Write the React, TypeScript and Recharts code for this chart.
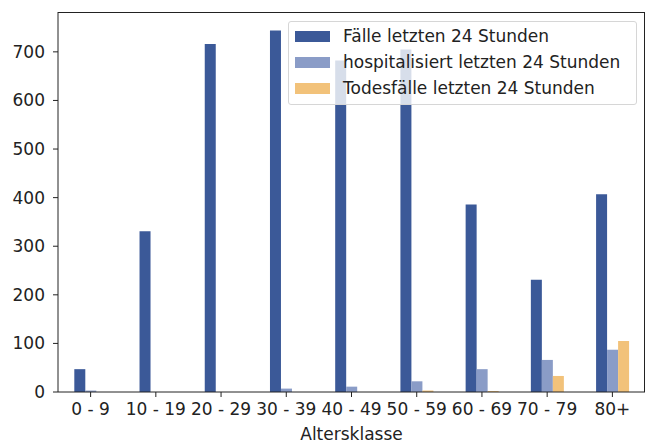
import React from "react";
import { Bar, BarChart, XAxis, YAxis, Label } from "recharts";

const ageGroups = ["0 - 9", "10 - 19", "20 - 29", "30 - 39", "40 - 49", "50 - 59", "60 - 69", "70 - 79", "80+"];
const cases = [47, 331, 716, 744, 682, 705, 386, 231, 407];
const hospitalized = [3, 0, 0, 7, 11, 22, 47, 66, 87];
const deaths = [0, 0, 0, 0, 0, 3, 2, 33, 105];
const yTicks = [0, 100, 200, 300, 400, 500, 600, 700];

const seriesNames = ["Fälle letzten 24 Stunden", "hospitalisiert letzten 24 Stunden", "Todesfälle letzten 24 Stunden"];
const seriesColors = ["#3b5998", "#8a9cc7", "#f2c27a"];

const data = ageGroups.map((group, i) => ({
  group,
  cases: cases[i],
  hospitalized: hospitalized[i],
  deaths: deaths[i],
}));

const FONT = "'DejaVu Sans', sans-serif";
const TEXT = "#222";
const FS = 17;

function LegendBox() {
  return (
    <div
      style={{
        position: "absolute",
        left: 288,
        top: 21,
        width: 349,
        height: 84,
        background: "rgba(255,255,255,0.8)",
        border: "1px solid #d6d6d6",
        borderRadius: 3,
        padding: "1px 0 0 6px",
        fontFamily: FONT,
        fontSize: FS,
        color: TEXT,
        boxSizing: "border-box",
      }}
    >
      {seriesNames.map((name, i) => (
        <div key={name} style={{ display: "flex", alignItems: "center", height: 26 }}>
          <span style={{ display: "inline-block", width: 35, height: 11, background: seriesColors[i], marginRight: 13 }} />
          <span>{name}</span>
        </div>
      ))}
    </div>
  );
}

export default function App() {
  return (
    <div style={{ position: "absolute", left: 0, top: 0, width: 657, height: 444, background: "#fff" }}>
      <BarChart
        width={657}
        height={444}
        data={data}
        margin={{ top: 12, right: 12, left: 0, bottom: 0 }}
        barCategoryGap="25%"
        barGap={0}
      >
        <XAxis
          dataKey="group"
          height={52}
          stroke="#222"
          tickLine={{ stroke: "#222" }}
          tickSize={5}
          tickMargin={6}
          tick={{ fill: TEXT, fontSize: FS, fontFamily: FONT }}
          interval={0}
        >
          <Label value="Altersklasse" position="insideBottom" offset={4} fill={TEXT} fontSize={FS} fontFamily={FONT} />
        </XAxis>
        <YAxis
          width={58}
          domain={[0, 782]}
          ticks={yTicks}
          stroke="#222"
          tickSize={5}
          tickMargin={8}
          tick={{ fill: TEXT, fontSize: FS, fontFamily: FONT }}
          allowDataOverflow
        />
        <Bar dataKey="cases" name={seriesNames[0]} fill={seriesColors[0]} isAnimationActive={false} />
        <Bar dataKey="hospitalized" name={seriesNames[1]} fill={seriesColors[1]} isAnimationActive={false} />
        <Bar dataKey="deaths" name={seriesNames[2]} fill={seriesColors[2]} isAnimationActive={false} />
      </BarChart>
      {/* top and right spines of the axes frame */}
      <div
        style={{
          position: "absolute",
          left: 58,
          top: 12,
          width: 587,
          height: 380,
          borderTop: "1px solid #222",
          borderRight: "1px solid #222",
          boxSizing: "border-box",
          pointerEvents: "none",
        }}
      />
      <LegendBox />
    </div>
  );
}
